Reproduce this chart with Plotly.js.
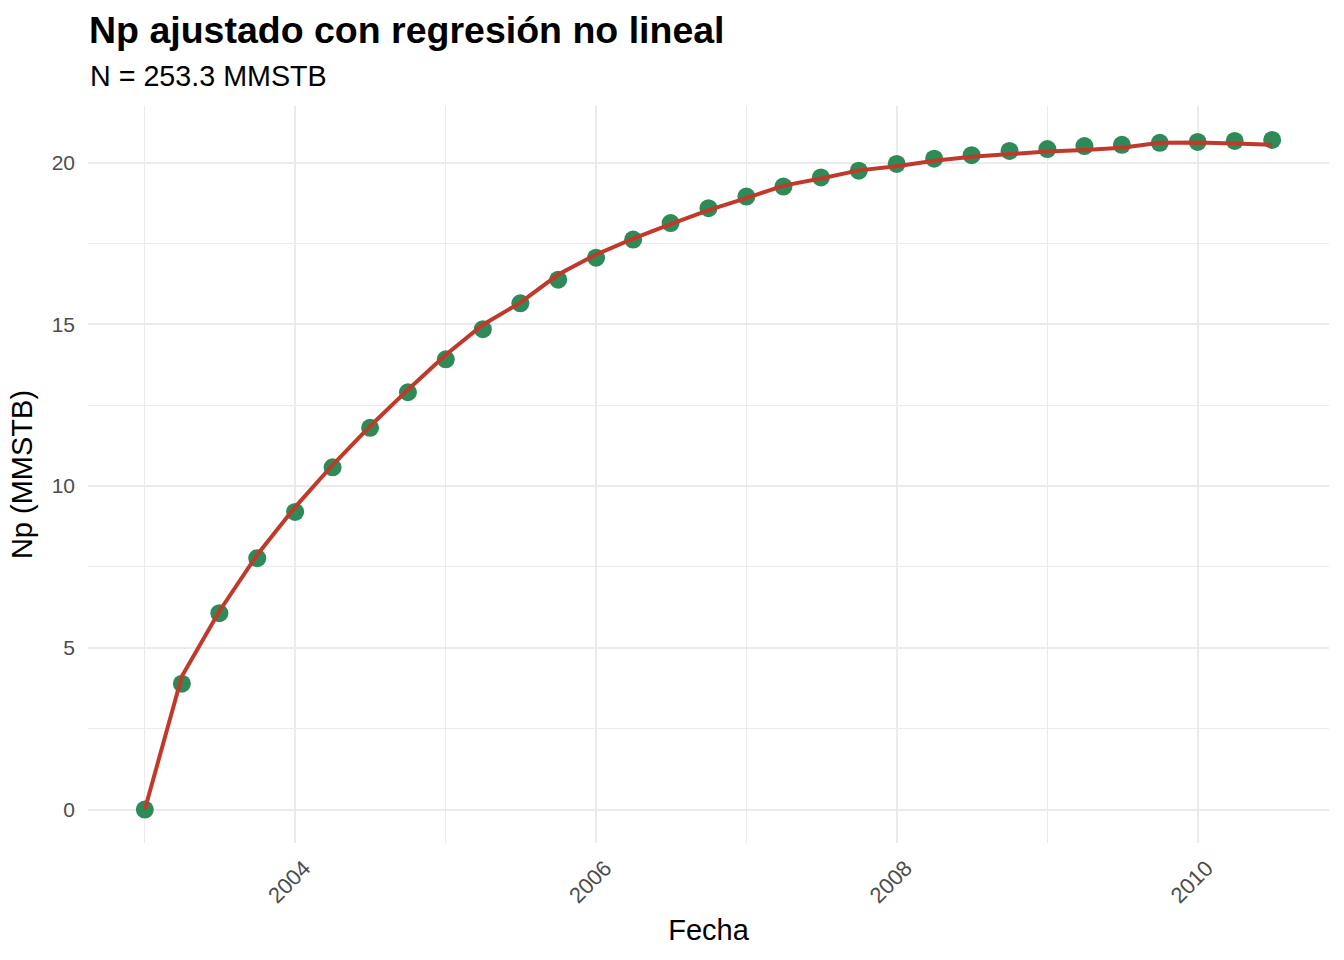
<!DOCTYPE html>
<html>
<head>
<meta charset="utf-8">
<script src="https://cdn.plot.ly/plotly-3.0.1.min.js"></script>
<style>
  body { margin: 0; background: #fff; }
  #myDiv { width: 1344px; height: 960px; }
</style>
</head>
<body>
<div id="myDiv"></div>
<script>
  // quarterly dates
  var fechas = [
    '2003-01-01', '2003-04-01', '2003-07-01', '2003-10-01',
    '2004-01-01', '2004-04-01', '2004-07-01', '2004-10-01',
    '2005-01-01', '2005-04-01', '2005-07-01', '2005-10-01',
    '2006-01-01', '2006-04-01', '2006-07-01', '2006-10-01',
    '2007-01-01', '2007-04-01', '2007-07-01', '2007-10-01',
    '2008-01-01', '2008-04-01', '2008-07-01', '2008-10-01',
    '2009-01-01', '2009-04-01', '2009-07-01', '2009-10-01',
    '2010-01-01', '2010-04-01', '2010-07-01'
  ];

  // Np observado (MMSTB)
  var npObs = [
    0, 3.89, 6.07, 7.77,
    9.20, 10.58, 11.80, 12.90,
    13.92, 14.85, 15.65, 16.38,
    17.06, 17.62, 18.13, 18.59,
    18.95, 19.26, 19.54, 19.75,
    19.96, 20.12, 20.23, 20.36,
    20.42, 20.51, 20.55, 20.61,
    20.64, 20.67, 20.70
  ];

  // Np ajustado (regresion no lineal)
  var npAjuste = [
    0, 4.12, 6.13, 7.88,
    9.35, 10.65, 11.85, 12.98,
    14.06, 14.99, 15.67, 16.54,
    17.16, 17.65, 18.10, 18.53,
    18.90, 19.29, 19.51, 19.76,
    19.89, 20.06, 20.18, 20.27,
    20.34, 20.39, 20.46, 20.61,
    20.62, 20.59, 20.55
  ];

  var xTicks = ['2004-01-01', '2006-01-01', '2008-01-01', '2010-01-01'];
  var xTickText = ['2004', '2006', '2008', '2010'];
  var xMinor = ['2003-01-01', '2005-01-01', '2007-01-01', '2009-01-01'];
  var yTicks = [0, 5, 10, 15, 20];
  var yMinor = [2.5, 7.5, 12.5, 17.5];

  var fnt = 'Liberation Sans, Arial, sans-serif';

  var puntos = {
    x: fechas,
    y: npObs,
    mode: 'markers',
    type: 'scatter',
    name: 'Np',
    marker: { size: 18, color: '#2E8B57' }
  };

  var ajuste = {
    x: fechas,
    y: npAjuste,
    mode: 'lines',
    type: 'scatter',
    name: 'Ajuste',
    line: { color: '#C0392B', width: 4 }
  };

  var layout = {
    width: 1344,
    height: 960,
    margin: { l: 88, r: 15, t: 106, b: 117 },
    paper_bgcolor: '#ffffff',
    plot_bgcolor: '#ffffff',
    showlegend: false,
    font: { family: fnt, color: '#000000' },
    title: {
      text: 'Np ajustado con regresión no lineal',
      font: { family: fnt, size: 37.5, weight: 'bold', color: '#000000' },
      xref: 'container',
      yref: 'container',
      x: 89 / 1344,
      xanchor: 'left',
      y: 1 - 30 / 960,
      yanchor: 'middle'
    },
    annotations: [{
      text: 'N = 253.3 MMSTB',
      xref: 'paper',
      yref: 'paper',
      x: 0,
      xanchor: 'left',
      y: 1 + 30 / 737,
      yanchor: 'middle',
      showarrow: false,
      font: { family: fnt, size: 28.7, color: '#000000' }
    }],
    xaxis: {
      type: 'date',
      range: ['2002-08-16', '2010-11-16'],
      tickmode: 'array',
      tickvals: xTicks,
      ticktext: xTickText,
      tickangle: -45,
      ticks: '',
      ticklabelstandoff: 7,
      ticklabelshift: 9,
      tickfont: { family: fnt, size: 22, color: '#4D4D4D' },
      showgrid: true,
      gridcolor: '#EBEBEB',
      gridwidth: 2,
      zeroline: false,
      showline: false,
      minor: { tickvals: xMinor, showgrid: true, gridcolor: '#EBEBEB', gridwidth: 1 },
      title: {
        text: 'Fecha',
        font: { family: fnt, size: 29, color: '#000000' },
        standoff: 12
      }
    },
    yaxis: {
      range: [-1.035, 21.75],
      tickmode: 'array',
      tickvals: yTicks,
      ticks: '',
      ticklabelstandoff: 12,
      tickfont: { family: fnt, size: 21, color: '#4D4D4D' },
      showgrid: true,
      gridcolor: '#EBEBEB',
      gridwidth: 2,
      zeroline: false,
      showline: false,
      minor: { tickvals: yMinor, showgrid: true, gridcolor: '#EBEBEB', gridwidth: 1 },
      title: {
        text: 'Np (MMSTB)',
        font: { family: fnt, size: 29, color: '#000000' },
        standoff: 10
      }
    }
  };

  Plotly.newPlot('myDiv', [puntos, ajuste], layout, { displayModeBar: false });
</script>
</body>
</html>
